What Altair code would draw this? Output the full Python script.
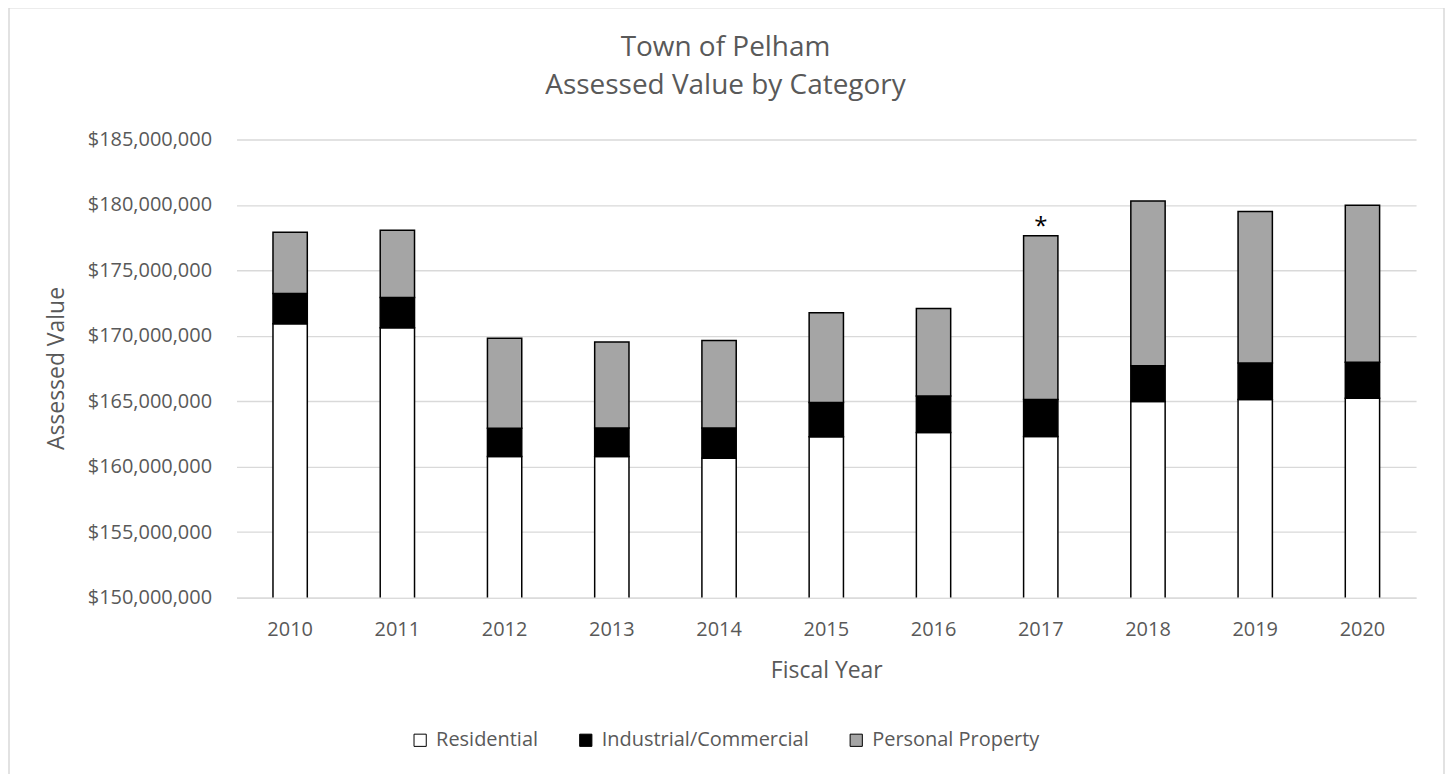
import altair as alt
import pandas as pd

years = ["2010", "2011", "2012", "2013", "2014", "2015", "2016", "2017", "2018", "2019", "2020"]
residential = [170_920_000, 170_610_000, 160_780_000, 160_770_000, 160_650_000, 162_280_000,
               162_610_000, 162_300_000, 164_980_000, 165_130_000, 165_230_000]
industrial = [2_310_000, 2_310_000, 2_160_000, 2_190_000, 2_310_000, 2_620_000,
              2_790_000, 2_830_000, 2_740_000, 2_790_000, 2_750_000]
personal = [4_680_000, 5_140_000, 6_880_000, 6_560_000, 6_690_000, 6_860_000,
            6_690_000, 12_520_000, 12_580_000, 11_580_000, 11_990_000]
categories = ["Residential", "Industrial/Commercial", "Personal Property"]
cat_colors = ["#ffffff", "#000000", "#a5a5a5"]
y_ticks = [150_000_000, 155_000_000, 160_000_000, 165_000_000, 170_000_000, 175_000_000,
           180_000_000, 185_000_000]
note_year = "2017"
note_text = "*"

rows = []
for i, yr in enumerate(years):
    for k, (cat, vals) in enumerate(zip(categories, [residential, industrial, personal])):
        rows.append({"year": yr, "category": cat, "value": vals[i], "order": k})
df = pd.DataFrame(rows)

ni = years.index(note_year)
note_df = pd.DataFrame([{"year": note_year, "label": note_text,
                         "value": residential[ni] + industrial[ni] + personal[ni]}])

FONT = "Open Sans"
GREY_TXT = "#595959"
GRID = "#d9d9d9"

x_enc = alt.X(
    "year:N", title="Fiscal Year", sort=years,
    scale=alt.Scale(paddingInner=0.68, paddingOuter=0.34),
    axis=alt.Axis(labelAngle=0, labelFontSize=20, labelColor=GREY_TXT, labelFont=FONT,
                  labelPadding=22, ticks=False, tickSize=0, domainColor=GRID, domainWidth=1.3,
                  grid=False, titleFontSize=23, titleColor=GREY_TXT, titleFont=FONT,
                  titleFontWeight="normal", titleY=73, titleBaseline="middle"),
)
y_scale = alt.Scale(domain=[y_ticks[0], y_ticks[-1]], zero=False, nice=False)
y_axis = alt.Axis(format="$,.0f", values=y_ticks, labelFontSize=20, labelColor=GREY_TXT,
                  labelFont=FONT, labelPadding=25, ticks=False, tickSize=0, domain=False,
                  gridColor=GRID, gridWidth=1.3, titleFontSize=23, titleColor=GREY_TXT,
                  titleFont=FONT, titleFontWeight="normal", titleX=-180, titleY=229,
                  titleAngle=270, titleBaseline="middle", titleAlign="center")

bars = alt.Chart(df).mark_bar(clip=True, stroke="black", strokeWidth=1.5).encode(
    x=x_enc,
    y=alt.Y("value:Q", stack="zero", title="Assessed Value", scale=y_scale, axis=y_axis),
    color=alt.Color("category:N", sort=categories,
                    scale=alt.Scale(domain=categories, range=cat_colors),
                    legend=alt.Legend(title=None, orient="none", legendX=174, legendY=592,
                                      direction="horizontal", symbolType="square",
                                      symbolSize=150, symbolStrokeColor="black",
                                      symbolStrokeWidth=1, symbolOpacity=1,
                                      labelFontSize=20, labelColor=GREY_TXT, labelFont=FONT,
                                      labelLimit=400, labelOffset=6, columnPadding=37)),
    order=alt.Order("order:Q"),
)

note = alt.Chart(note_df).mark_text(fontSize=24, font=FONT, color="black", baseline="alphabetic",
                                    dy=-2).encode(
    x=alt.X("year:N", sort=years),
    y=alt.Y("value:Q", scale=y_scale),
    text="label:N",
)

frame = alt.Chart(alt.Data(values=[{}])).mark_rect(
    fillOpacity=0, stroke=GRID, strokeWidth=1.5
).encode(x=alt.value(-228), x2=alt.value(1210), y=alt.value(-132), y2=alt.value(700))

chart = alt.layer(frame, bars, note).properties(
    width=1182, height=459,
    background="white",
    autosize=alt.AutoSizeParams(type="none"),
    padding={"left": 229, "top": 131, "right": 30, "bottom": 176},
    title=alt.TitleParams(text=["Town of Pelham", "Assessed Value by Category"], fontSize=28,
                          font=FONT, color=GREY_TXT, fontWeight="normal", anchor="middle",
                          frame="group", dx=-101, lineHeight=38, offset=-93),
).configure_view(stroke=None)

chart.save("out.html", embed_options={"renderer": "svg", "actions": False})
